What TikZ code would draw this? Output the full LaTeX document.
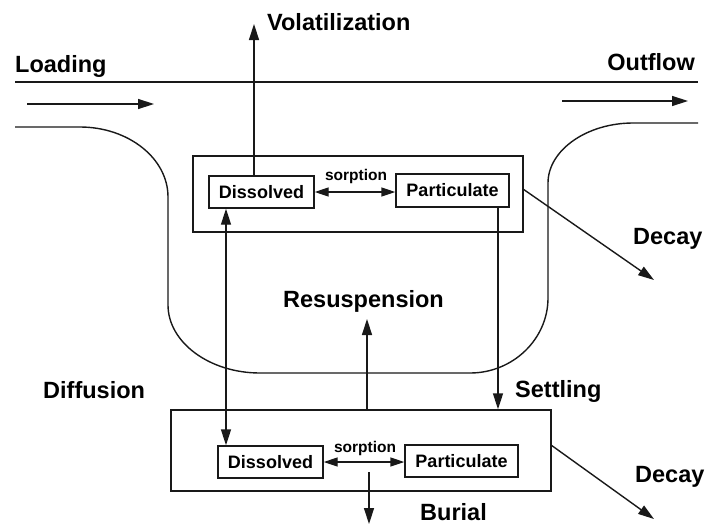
\documentclass[tikz,border=0pt]{standalone}
\usepackage{fontspec}
\setmainfont{Liberation Sans}
\usetikzlibrary{arrows.meta}
\begin{document}
\begin{tikzpicture}[x=1pt,y=-1pt,
  ln/.style={line width=1.4pt, draw=black!90},
  arr/.style={ln, -{Triangle[length=16pt,width=10pt]}},
  darr/.style={ln, {Triangle[length=16pt,width=10pt]}-{Triangle[length=16pt,width=10pt]}},
  sarr/.style={ln, {Triangle[length=14pt,width=9pt]}-{Triangle[length=14pt,width=9pt]}},
  big/.style={inner sep=0pt, font=\fontsize{23.5}{28}\selectfont\bfseries},
  sm/.style={inner sep=0pt, font=\fontsize{15.5}{18}\selectfont\bfseries},
  comp/.style={ln, draw, inner sep=0pt, font=\fontsize{18}{21}\selectfont\bfseries},
  frame/.style={ln, draw, inner sep=0pt}
]
\useasboundingbox (0,0) rectangle (708,525);

% water column outline
\draw[ln, line width=1.8pt] (15,82) -- (698,82);
\draw[ln] (15,127) -- (80,127) .. controls (128,127) and (168,158) .. (168,197)
  -- (168,305) .. controls (168,342) and (209,373) .. (260,373)
  -- (470,373) .. controls (513,373) and (548,339) .. (548,298)
  -- (548,183) .. controls (548,150) and (587,123) .. (633,123) -- (698,123);

% flow arrows
\coordinate (lin1) at (27,104);
\coordinate (lin2) at (154,104);
\coordinate (lout1) at (562,101);
\coordinate (lout2) at (688,101);
\draw[arr] (lin1) -- (lin2);
\draw[arr] (lout1) -- (lout2);

% boxes
\node[frame, minimum width=330pt, minimum height=76pt] (upbox) at (358,194) {};
\node[comp, minimum width=105pt, minimum height=32pt] (udis) at (261.5,192) {Dissolved};
\node[comp, minimum width=113pt, minimum height=33pt] (upart) at (452.5,190.5) {Particulate};
\node[frame, minimum width=380pt, minimum height=81pt] (lowbox) at (361,450.5) {};
\node[comp, minimum width=105pt, minimum height=32pt] (ldis) at (270.5,462) {Dissolved};
\node[comp, minimum width=113pt, minimum height=32pt] (lpart) at (461.5,461) {Particulate};

% sorption
\draw[sarr] (udis.east) -- (udis.east -| upart.west);
\draw[sarr] (ldis.east) -- (ldis.east -| lpart.west);
\node[sm, anchor=base] (us) at (356,180) {sorption};
\node[sm, anchor=base] (ls) at (365,452) {sorption};

% volatilization
\coordinate (vt) at (254,24);
\draw[arr] (udis.north -| vt) -- (vt);

% diffusion
\coordinate (dx) at (226,0);
\draw[darr] (udis.south -| dx) -- (ldis.north -| dx);

% settling
\coordinate (sx) at (498,0);
\draw[arr] (upart.south -| sx) -- (lowbox.north -| sx);

% resuspension
\coordinate (rt) at (367,319);
\draw[arr] (lowbox.north -| rt) -- (rt);

% burial
\coordinate (bs) at (369,472);
\coordinate (bt) at (369,524);
\draw[arr] (bs) -- (bt);

% decay
\coordinate (ud1) at (523,189);
\coordinate (ud2) at (654,280);
\draw[arr] (ud1) -- (ud2);
\coordinate (ld1) at (551,445);
\coordinate (ld2) at (654,519);
\draw[arr] (ld1) -- (ld2);

% labels
\node[big, anchor=base west] (tload) at (15,72) {Loading};
\node[big, anchor=base east] (tout) at (695,70) {Outflow};
\node[big, anchor=base west] (tvol) at (267,30) {Volatilization};
\node[big, anchor=base west] (tdec1) at (633,244) {Decay};
\node[big, anchor=base west] (tdif) at (43,398) {Diffusion};
\node[big, anchor=base west] (tres) at (283,307) {Resuspension};
\node[big, anchor=base west] (tset) at (515,397) {Settling};
\node[big, anchor=base west] (tdec2) at (635,482) {Decay};
\node[big, anchor=base west] (tbur) at (420,520) {Burial};
\end{tikzpicture}
\end{document}
